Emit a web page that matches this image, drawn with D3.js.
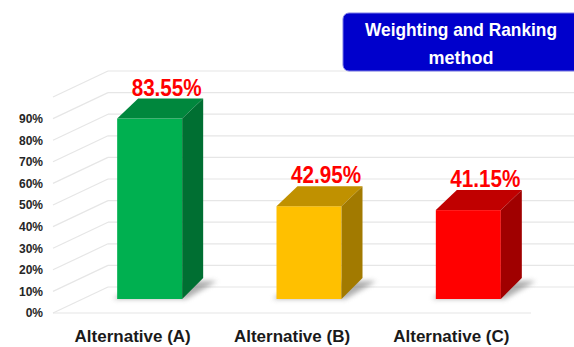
<!DOCTYPE html>
<html>
<head>
<meta charset="utf-8">
<script src="https://cdn.jsdelivr.net/npm/d3@7"></script>
<style>
  body { margin: 0; background: #fff; }
  svg { display: block; }
</style>
</head>
<body>
<svg id="chart" width="574" height="347"></svg>
<script>
var categories = ["Alternative (A)", "Alternative (B)", "Alternative (C)"];
var values = [0.8355, 0.4295, 0.4115];
var valueLabels = ["83.55%", "42.95%", "41.15%"];
var tickValues = [0, 0.1, 0.2, 0.3, 0.4, 0.5, 0.6, 0.7, 0.8, 0.9];
var gridValues = [0, 0.1, 0.2, 0.3, 0.4, 0.5, 0.6, 0.7, 0.8, 0.9, 1.0];
var titleLines = ["Weighting and Ranking", "method"];

// front, top, side colours for each bar
var faceColor = [
  {front: "#00b050", top: "#00873d", side: "#006f32"},
  {front: "#ffc000", top: "#c09100", side: "#a27a00"},
  {front: "#ff0000", top: "#c00000", side: "#a00000"}
];

var svg = d3.select("#chart");
var sans = "'Liberation Sans', Arial, sans-serif";

// walls: side wall goes from x=53 (front) to x=108 (back)
var wallFrontX = 53, wallBackX = 108, floorRight = 531;
var yAxisFront = d3.scaleLinear().domain([0, 1]).range([313, 97]);
var yWall = d3.scaleLinear().domain([0, 1]).range([287, 71]);
var yBar = d3.scaleLinear().domain([0, 1]).range([299, 83]);

var x = d3.scaleBand().domain(categories).range([wallFrontX, floorRight]).paddingInner(0).paddingOuter(0);
var barW = 65, depthX = 21, depthY = 20, barShift = 17;

var defs = svg.append("defs");
defs.append("filter").attr("id", "blur")
  .attr("x", "-50%").attr("y", "-50%").attr("width", "200%").attr("height", "200%")
  .append("feGaussianBlur").attr("stdDeviation", 2.5);

var grid = svg.append("g").attr("id", "grid");

// back wall gridlines
grid.selectAll("line.back")
  .data(gridValues)
  .enter()
  .append("line")
  .attr("class", "back")
  .attr("x1", wallBackX).attr("x2", 574)
  .attr("y1", function(d){ return yWall(d); })
  .attr("y2", function(d){ return yWall(d); })
  .style("stroke", "#e6e6e6")
  .style("stroke-width", 1.2);

// side wall diagonals
grid.selectAll("line.side")
  .data(gridValues)
  .enter()
  .append("line")
  .attr("class", "side")
  .attr("x1", wallFrontX).attr("x2", wallBackX)
  .attr("y1", function(d){ return yAxisFront(d); })
  .attr("y2", function(d){ return yWall(d); })
  .style("stroke", "#e6e6e6")
  .style("stroke-width", 1.2);

// floor front edge
grid.append("line")
  .attr("x1", wallFrontX).attr("x2", floorRight)
  .attr("y1", yAxisFront(0)).attr("y2", yAxisFront(0))
  .style("stroke", "#e6e6e6")
  .style("stroke-width", 1.2);

// y axis labels
var yAxis = d3.axisLeft(yAxisFront)
  .tickValues(tickValues)
  .tickFormat(d3.format(".0%"))
  .tickSize(0)
  .tickPadding(0);

var yg = svg.append("g").attr("transform", "translate(43,0)").call(yAxis);
yg.select(".domain").remove();
yg.selectAll("text")
  .style("font-family", sans)
  .style("font-weight", "bold")
  .style("font-size", "12px")
  .style("fill", "#262626");

// category labels
var xAxis = d3.axisBottom(x).tickSize(0).tickPadding(17);
var xg = svg.append("g").attr("transform", "translate(0," + yAxisFront(0) + ")").call(xAxis);
xg.select(".domain").remove();
xg.selectAll("text")
  .style("font-family", sans)
  .style("font-weight", "bold")
  .style("font-size", "17px")
  .style("fill", "#1a1a1a");

// bars
var bars = svg.append("g").attr("id", "bars")
  .selectAll("g")
  .data(categories)
  .enter()
  .append("g");

function frontLeft(i) {
  return x(categories[i]) + x.bandwidth() / 2 + barShift - barW / 2;
}

// soft shadow on the floor
bars.append("polygon")
  .attr("points", function(d, i) {
    var x0 = frontLeft(i) - 4, y0 = yBar(0);
    return [[x0, y0], [x0 + barW + 8, y0], [x0 + barW + depthX + 18, y0 - depthY + 2], [x0 + depthX + 6, y0 - depthY + 2]]
      .map(function(p){ return p.join(","); }).join(" ");
  })
  .style("fill", "#7a7a7a")
  .style("opacity", 0.6)
  .attr("filter", "url(#blur)");

bars.append("rect")
  .attr("x", function(d, i){ return frontLeft(i); })
  .attr("y", function(d, i){ return yBar(values[i]); })
  .attr("width", barW)
  .attr("height", function(d, i){ return yBar(0) - yBar(values[i]); })
  .style("fill", function(d, i){ return faceColor[i].front; });

bars.append("polygon")
  .attr("points", function(d, i) {
    var x0 = frontLeft(i), yt = yBar(values[i]);
    return [[x0, yt], [x0 + barW, yt], [x0 + barW + depthX, yt - depthY], [x0 + depthX, yt - depthY]]
      .map(function(p){ return p.join(","); }).join(" ");
  })
  .style("fill", function(d, i){ return faceColor[i].top; });

bars.append("polygon")
  .attr("points", function(d, i) {
    var x1 = frontLeft(i) + barW, yt = yBar(values[i]), yb = yBar(0);
    return [[x1, yt], [x1 + depthX, yt - depthY], [x1 + depthX, yb - depthY - 1], [x1, yb]]
      .map(function(p){ return p.join(","); }).join(" ");
  })
  .style("fill", function(d, i){ return faceColor[i].side; });

// value labels (squeezed a bit to look like the narrow original font)
bars.append("text")
  .attr("x", function(d, i){ return frontLeft(i) + barW / 2 + 17; })
  .attr("y", function(d, i){ return yBar(values[i]) - depthY - 3; })
  .attr("text-anchor", "middle")
  .attr("textLength", 70)
  .attr("lengthAdjust", "spacingAndGlyphs")
  .style("font-family", sans)
  .style("font-weight", "bold")
  .style("font-size", "23px")
  .style("fill", "#ff0000")
  .text(function(d, i){ return valueLabels[i]; });

// title box
var title = svg.append("g").attr("id", "title");
title.append("rect")
  .attr("x", 343).attr("y", 13)
  .attr("width", 250).attr("height", 58)
  .attr("rx", 6)
  .style("fill", "#0000cc")
  .style("stroke", "#7b7be6")
  .style("stroke-width", 1);

title.selectAll("text")
  .data(titleLines)
  .enter()
  .append("text")
  .attr("x", 461)
  .attr("y", function(d, i){ return 36 + i * 28; })
  .attr("text-anchor", "middle")
  .attr("textLength", function(d, i){ return i === 0 ? 192 : 65; })
  .attr("lengthAdjust", "spacingAndGlyphs")
  .style("font-family", sans)
  .style("font-weight", "bold")
  .style("font-size", "18.5px")
  .style("fill", "#ffffff")
  .text(function(d){ return d; });
</script>
</body>
</html>
